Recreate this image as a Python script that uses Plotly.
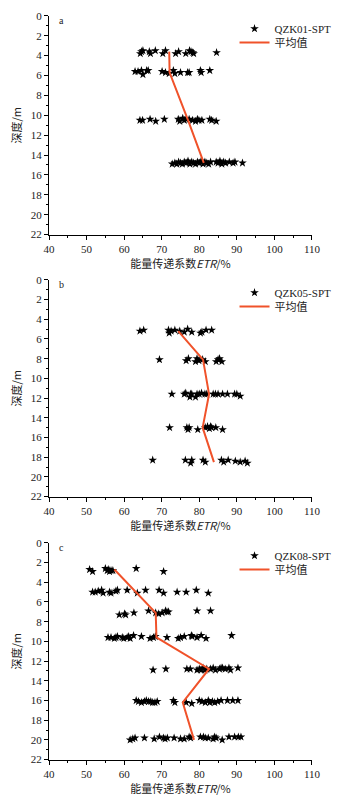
import plotly.graph_objects as go

# ---------------- data ----------------
# Panel a : QZK01-SPT
a_etr = [64.3, 64.6, 65.0, 66.7, 67.0, 68.3, 70.3, 71.0, 73.7, 74.5, 76.4, 77.4, 77.8, 78.3, 78.5, 84.6,
         62.9, 63.7, 64.6, 65.0, 66.0, 66.4, 70.1, 71.0, 72.0, 73.1, 73.5, 75.0, 76.9, 77.3, 80.3, 80.5, 82.8,
         64.2, 64.9, 66.9, 68.4, 70.7, 74.4, 74.8, 75.6, 76.0, 76.5, 77.3, 78.2, 79.0, 79.5, 79.9, 80.7, 82.8, 83.3, 84.5,
         72.8, 73.5, 74.0, 74.5, 75.0, 75.5, 76.0, 76.5, 77.0, 77.5, 78.0, 78.5, 79.0, 79.5, 80.0, 80.5, 81.0, 81.5,
         82.0, 82.5, 83.0, 84.5, 85.0, 85.5, 86.0, 86.5, 87.0, 88.0, 89.0, 89.5, 91.5]
a_depth = [3.8, 3.6, 3.5, 3.6, 3.8, 3.5, 3.8, 3.5, 3.8, 3.6, 3.8, 3.5, 3.6, 3.7, 3.8, 3.7,
           5.6, 5.6, 5.5, 5.9, 5.5, 5.5, 5.6, 5.7, 5.8, 5.5, 5.8, 5.7, 5.7, 5.7, 5.5, 5.7, 5.5,
           10.5, 10.5, 10.4, 10.6, 10.4, 10.4, 10.6, 10.3, 10.5, 10.4, 10.4, 10.5, 10.6, 10.4, 10.5, 10.5, 10.4, 10.5, 10.6,
           14.9, 14.8, 14.9, 14.7, 14.8, 14.9, 14.7, 14.8, 14.6, 14.9, 14.7, 14.8, 14.9, 14.7, 14.8, 14.6, 14.9, 14.7,
           14.8, 14.9, 14.7, 14.7, 14.8, 14.6, 14.9, 14.7, 14.8, 14.7, 14.8, 14.7, 14.8]
a_mean_etr = [72.0, 72.1, 77.0, 81.2]
a_mean_depth = [3.6, 5.7, 10.5, 14.8]

# Panel b : QZK05-SPT
b_etr = [64.2, 65.2, 71.8, 72.0, 72.5, 73.5, 74.8, 76.0, 76.9, 78.0, 80.3, 80.7, 81.8, 83.3,
         69.4, 76.5, 77.1, 79.0, 79.4, 79.9, 80.9, 81.6, 84.5, 85.0, 85.4, 86.0,
         72.7, 76.0, 76.4, 77.5, 77.7, 78.0, 79.0, 79.4, 80.0, 80.6, 81.5, 82.0, 83.7, 84.3, 85.0, 86.2, 87.5, 89.4, 90.0, 90.9,
         72.1, 76.7, 77.0, 77.3, 79.6, 81.6, 82.2, 82.7, 83.0, 83.3, 84.4, 86.2,
         67.6, 76.3, 77.7, 78.0, 81.0, 81.6, 85.9, 86.5, 87.7, 89.6, 90.9, 92.2, 92.8]
b_depth = [5.2, 5.1, 5.1, 5.4, 5.2, 5.1, 5.2, 5.3, 5.0, 5.3, 5.4, 5.3, 5.1, 5.1,
           8.1, 8.2, 8.0, 8.3, 8.0, 8.2, 8.1, 8.3, 8.3, 8.1, 8.0, 8.3,
           11.6, 11.6, 11.5, 11.9, 11.6, 11.6, 11.9, 11.6, 11.6, 11.5, 11.6, 11.6, 11.6, 11.6, 11.6, 11.6, 11.6, 11.6, 11.6, 11.8,
           15.0, 15.0, 15.2, 15.0, 15.2, 15.0, 14.9, 15.1, 14.9, 15.0, 15.0, 15.2,
           18.3, 18.3, 18.6, 18.3, 18.3, 18.5, 18.3, 18.5, 18.3, 18.4, 18.5, 18.4, 18.6]
b_mean_etr = [74.4, 81.0, 82.6, 80.9, 83.9]
b_mean_depth = [5.2, 8.1, 11.6, 15.0, 18.5]

# Panel c : QZK08-SPT
c_etr = [50.8, 51.6, 55.0, 55.5, 55.9, 56.1, 56.5, 57.0, 63.2, 70.5,
         51.6, 52.3, 53.1, 54.0, 54.4, 56.1, 56.5, 57.8, 58.2, 60.8, 63.5, 65.7, 69.3, 70.5, 74.1, 76.5, 79.2, 82.4,
         58.7, 60.1, 60.4, 62.6, 66.5, 68.4, 69.2, 70.1, 71.0, 71.4, 71.8, 79.4, 83.0,
         55.7, 56.5, 57.4, 57.8, 58.2, 59.5, 59.9, 60.8, 61.2, 61.6, 62.5, 64.6, 66.9, 67.8, 68.3, 71.4, 74.4, 75.0,
         76.0, 77.9, 78.1, 79.4, 80.5, 81.8, 88.6,
         67.7, 71.1, 76.7, 77.6, 79.4, 80.0, 80.5, 81.0, 81.5, 82.0, 83.0, 83.7, 84.3, 85.4, 85.8, 86.2, 86.9, 87.9, 88.3, 90.3,
         63.2, 63.8, 64.6, 65.4, 65.9, 66.5, 67.1, 67.6, 68.2, 68.8, 73.1, 73.5, 76.5, 78.0,
         80.0, 80.7, 81.6, 82.4, 82.8, 83.5, 84.1, 84.9, 85.8, 87.5, 88.9, 90.3,
         61.6, 62.3, 62.9, 65.4, 68.0, 69.4, 70.5, 70.9, 71.5, 73.3, 75.0, 76.0, 77.3, 77.7,
         80.3, 81.1, 81.6, 82.4, 83.7, 84.1, 84.5, 86.1, 87.9, 89.4, 90.4, 91.1]
c_depth = [2.7, 2.9, 2.6, 2.8, 2.7, 2.9, 2.8, 2.8, 2.6, 2.9,
           5.0, 5.0, 4.9, 4.8, 5.1, 5.0, 5.1, 4.9, 4.8, 4.8, 5.1, 4.8, 4.8, 5.1, 5.0, 5.0, 4.8, 5.1,
           7.3, 7.2, 7.3, 7.1, 6.9, 7.1, 7.2, 7.1, 6.9, 7.0, 7.0, 6.9, 6.9,
           9.6, 9.6, 9.7, 9.6, 9.5, 9.6, 9.7, 9.6, 9.5, 9.7, 9.4, 9.5, 9.7, 9.6, 9.5, 9.6, 9.7, 9.6,
           9.5, 9.4, 9.5, 9.6, 9.4, 9.7, 9.4,
           12.9, 12.8, 12.8, 12.8, 12.9, 12.8, 12.9, 12.7, 12.9, 12.8, 12.8, 12.7, 12.9, 12.8, 12.7, 12.7, 12.8, 12.7, 12.9, 12.7,
           16.0, 16.1, 16.2, 16.1, 16.0, 16.1, 16.1, 16.2, 16.2, 16.1, 16.0, 16.2, 16.2, 16.3,
           16.0, 16.1, 16.2, 16.0, 16.2, 16.1, 16.2, 16.1, 16.0, 16.0, 16.0, 16.0,
           20.0, 19.9, 19.8, 19.8, 19.9, 19.7, 19.8, 19.9, 19.8, 19.8, 19.9, 19.9, 19.7, 19.8,
           19.7, 19.7, 19.8, 19.8, 19.9, 19.7, 19.8, 20.0, 19.7, 19.7, 19.7, 19.7]
c_mean_etr = [57.4, 68.4, 68.6, 82.6, 75.6, 78.6]
c_mean_depth = [2.7, 7.1, 9.6, 12.8, 16.2, 20.0]

hole_names = ["QZK01-SPT", "QZK05-SPT", "QZK08-SPT"]
panel_labels = ["a", "b", "c"]
mean_label = "平均值"
x_ticks = [40, 50, 60, 70, 80, 90, 100, 110]
y_ticks = [0, 2, 4, 6, 8, 10, 12, 14, 16, 18, 20, 22]

# ---------------- layout ----------------
W, H = 342, 805
SERIF = "Liberation Serif, Times New Roman, Noto Sans CJK SC, serif"
CJK = "Noto Sans CJK SC, Liberation Serif, serif"
panels_px = [(10, 232), (278, 498), (545, 765)]  # top, bottom of plot areas in px
x_left, x_right = 45, 320
leg_x = 239

fig = go.Figure()
panels = [(a_etr, a_depth, a_mean_etr, a_mean_depth),
          (b_etr, b_depth, b_mean_etr, b_mean_depth),
          (c_etr, c_depth, c_mean_etr, c_mean_depth)]

for i, (ex, dy, mx, my) in enumerate(panels):
    k = "" if i == 0 else str(i + 1)
    lg1 = "legend" if i == 0 else "legend" + str(2 * i + 1)
    lg2 = "legend" + str(2 * i + 2)
    fig.add_trace(go.Scatter(x=ex, y=dy, mode="markers", name=hole_names[i],
                             marker=dict(symbol="star", size=6.5, color="black"),
                             xaxis="x" + k, yaxis="y" + k, legend=lg1))
    fig.add_trace(go.Scatter(x=mx, y=my, mode="lines", name=mean_label,
                             line=dict(color="#f0522a", width=2),
                             xaxis="x" + k, yaxis="y" + k, legend=lg2))
    top, bot = panels_px[i]
    ydom = [1 - bot / H, 1 - top / H]
    axis_common = dict(showline=True, linecolor="black", linewidth=1, ticks="outside",
                       ticklen=4, tickcolor="black", showgrid=False, zeroline=False,
                       tickfont=dict(family=SERIF, size=11, color="#222"))
    fig.layout["xaxis" + k] = dict(domain=[x_left / W, x_right / W], range=[40, 110],
                                   tickvals=x_ticks, anchor="y" + k,
                                   minor=dict(dtick=5, tick0=45, ticks="outside", ticklen=2, tickcolor="black"),
                                   title=dict(text="能量传递系数<i>ETR</i>/%", standoff=4,
                                              font=dict(family=CJK, size=11, color="#222")),
                                   **axis_common)
    fig.layout["yaxis" + k] = dict(domain=ydom, range=[22, 0], tickvals=y_ticks, anchor="x" + k,
                                   minor=dict(dtick=1, tick0=1, ticks="outside", ticklen=2, tickcolor="black"),
                                   title=dict(text="深度/m", standoff=6,
                                              font=dict(family=CJK, size=11, color="#222")),
                                   **axis_common)
    for lg, yc in ((lg1, top + 13), (lg2, top + 27)):
        fig.layout[lg] = dict(x=leg_x / W, y=1 - yc / H, xanchor="left", yanchor="middle",
                              bgcolor="rgba(0,0,0,0)", font=dict(family=SERIF, size=11, color="#222"),
                              tracegroupgap=0, itemwidth=30, borderwidth=0)
    fig.add_annotation(text=panel_labels[i], x=(x_left + 8) / W, y=1 - (top + 5) / H,
                       xref="paper", yref="paper", showarrow=False, xanchor="left", yanchor="middle",
                       font=dict(family=SERIF, size=10, color="#222"))

fig.update_layout(width=W, height=H, margin=dict(l=0, r=0, t=0, b=0),
                  paper_bgcolor="white", plot_bgcolor="white", showlegend=True)

fig.write_html("out.html")
